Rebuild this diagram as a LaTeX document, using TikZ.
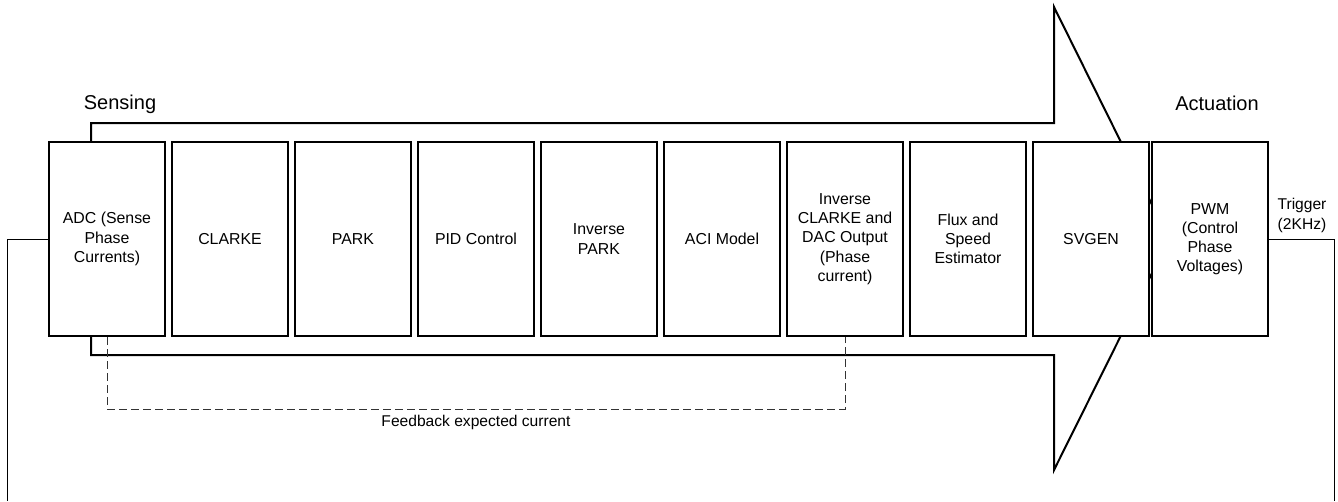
\documentclass[tikz,border=0pt]{standalone}
\usepackage{fontspec}
\setmainfont{Liberation Sans}
\usetikzlibrary{positioning}

\tikzset{
  block/.style={draw, fill=white, line width=1.5pt, minimum width=87pt,
    minimum height=145.5pt, inner sep=0pt, align=center,
    font=\fontsize{11.9}{14.4}\selectfont},
  wire/.style={line width=0.75pt},
  fbline/.style={line width=0.75pt, dash pattern=on 6pt off 3pt, black!80},
  title/.style={font=\fontsize{15}{17}\selectfont},
  small/.style={font=\fontsize{11.7}{15}\selectfont, align=center}
}

\begin{document}
\begin{tikzpicture}[>=latex, x=0.75pt, y=-0.75pt]

\useasboundingbox (0,0) rectangle (1338,501);

% big arrow behind the blocks
\draw[line width=1.5pt] (91,123)--(1054,123)--(1054,7)--(1169,239)--(1054,470)--(1054,355)--(91,355)--cycle;

\node[title] (sensing) at (120,104) {Sensing};
\node[title] (actuation) at (1217,103) {Actuation};

% blocks
\node[block] (adc) at (107,239) {ADC (Sense\\Phase\\Currents)};
\node[block] (clarke) at (230,239) {CLARKE};
\node[block] (park) at (353,239) {PARK};
\node[block] (pid) at (476,239) {PID Control};
\node[block] (ipark) at (599,239) {Inverse\\PARK};
\node[block] (aci) at (722,239) {ACI Model};
\node[block] (iclarke) at (845,239) {Inverse\\CLARKE and\\DAC Output\\(Phase\\current)};
\node[block] (flux) at (968,239) {Flux and\\Speed\\Estimator};
\node[block] (svgen) at (1091,239) {SVGEN};
\node[block] (pwm) at (1210,239) {PWM\\(Control\\Phase\\Voltages)};

% trigger loop
\coordinate (lbot) at (7,501);
\coordinate (rbot) at (1334,501);
\draw[wire] (adc.west) -| (lbot);
\draw[wire] (pwm.east) -| (rbot);
\node[small] (trigger) at (1302,215) {Trigger\\(2KHz)};

% feedback
\draw[fbline] (adc.south) -- ++(0,72) -| (iclarke.south) coordinate[pos=0.25] (fbmid);
\node[small, below=1pt of fbmid] (fblabel) {Feedback expected current};

\end{tikzpicture}
\end{document}
